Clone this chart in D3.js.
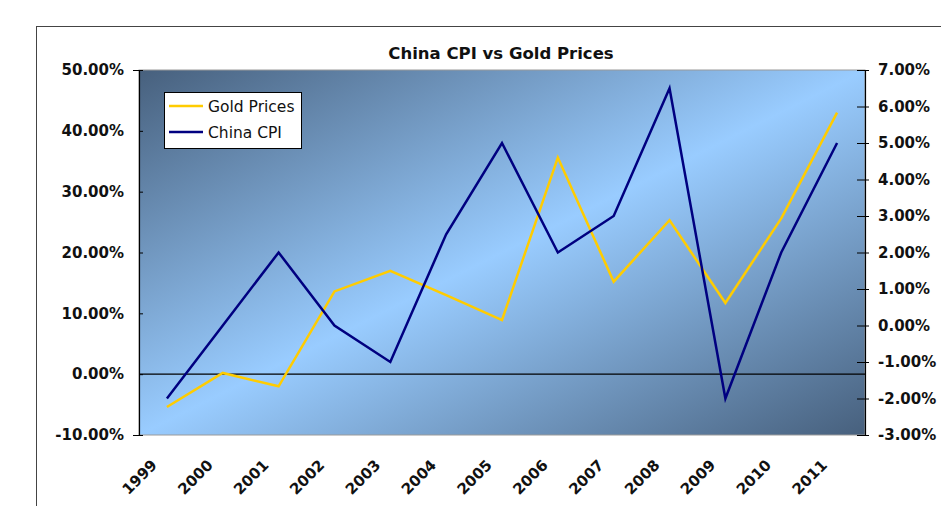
<!DOCTYPE html>
<html>
<head>
<meta charset="utf-8">
<script src="https://cdn.jsdelivr.net/npm/d3@7"></script>
<style>
  body { margin: 0; background: #fff; }
  svg { display: block; }
</style>
</head>
<body>
<script>
// chart data (percent)
const years = ["1999", "2000", "2001", "2002", "2003", "2004", "2005", "2006", "2007", "2008", "2009", "2010", "2011"];
const goldPrices = [-5.4, 0.2, -2.0, 13.6, 17.0, 13.0, 8.9, 35.6, 15.2, 25.3, 11.7, 25.6, 43.0];
const chinaCpi = [-2.0, 0.0, 2.0, 0.0, -1.0, 2.5, 5.0, 2.0, 3.0, 6.5, -2.0, 2.0, 5.0];
const leftTicks = [-10, 0, 10, 20, 30, 40, 50];
const rightTicks = [-3, -2, -1, 0, 1, 2, 3, 4, 5, 6, 7];

const width = 941;
const height = 506;
const plot = { left: 139, right: 865, top: 70, bottom: 435 };
const boldFont = "'DejaVu Sans', Verdana, sans-serif";

const svg = d3.select("body").append("svg")
  .attr("width", width)
  .attr("height", height);

// outer chart border (cut off on right and bottom)
svg.append("rect")
  .attr("x", 36.5).attr("y", 26.5)
  .attr("width", 1000).attr("height", 1000)
  .attr("fill", "#fff")
  .attr("stroke", "#444");

// plot background gradient
const grad = svg.append("defs").append("linearGradient")
  .attr("id", "bg")
  .attr("x1", "0").attr("y1", "0").attr("x2", "1").attr("y2", "1");
grad.append("stop").attr("offset", "0%").attr("stop-color", "#47607d");
grad.append("stop").attr("offset", "50%").attr("stop-color", "#99ccff");
grad.append("stop").attr("offset", "100%").attr("stop-color", "#47607d");

svg.append("rect")
  .attr("x", plot.left).attr("y", plot.top)
  .attr("width", plot.right - plot.left).attr("height", plot.bottom - plot.top)
  .attr("fill", "url(#bg)")
  .attr("stroke", "#9a9a9a");

// scales
const x = d3.scaleBand()
  .domain(years)
  .range([plot.left, plot.right]);

const yLeft = d3.scaleLinear()
  .domain([-10, 50])
  .range([plot.bottom, plot.top]);

const yRight = d3.scaleLinear()
  .domain([-3, 7])
  .range([plot.bottom, plot.top]);

// plain hyphen for negatives, like the original
const fmt = d => d3.format(".2f")(d).replace("\u2212", "-") + "%";

// left axis
const leftAxis = svg.append("g")
  .attr("transform", `translate(${plot.left},0)`)
  .call(d3.axisLeft(yLeft).tickValues(leftTicks).tickFormat(fmt).tickSize(6).tickPadding(9));
leftAxis.select(".domain").attr("stroke", "#000").attr("stroke-width", 1.2);
leftAxis.selectAll(".tick line").attr("x2", 4).attr("stroke", "#000");
leftAxis.selectAll("text")
  .attr("font-family", boldFont).attr("font-weight", "bold")
  .attr("font-size", 15).attr("fill", "#111");

// right axis
const rightAxis = svg.append("g")
  .attr("transform", `translate(${plot.right},0)`)
  .call(d3.axisRight(yRight).tickValues(rightTicks).tickFormat(fmt).tickSize(4).tickPadding(9));
rightAxis.select(".domain").attr("stroke", "#000").attr("stroke-width", 1.2);
rightAxis.selectAll(".tick line").attr("x1", -8).attr("stroke", "#000");
rightAxis.selectAll("text")
  .attr("font-family", boldFont).attr("font-weight", "bold")
  .attr("font-size", 15).attr("fill", "#111");

// category axis line at 0%
svg.append("line")
  .attr("x1", plot.left).attr("x2", plot.right)
  .attr("y1", yLeft(0)).attr("y2", yLeft(0))
  .attr("stroke", "#000").attr("stroke-width", 1.2);

// year labels, rotated
svg.append("g")
  .selectAll("text")
  .data(years)
  .join("text")
  .attr("transform", d => `translate(${x(d) + x.bandwidth() / 2 - 9},${plot.bottom + 31}) rotate(-45)`)
  .attr("text-anchor", "end")
  .attr("font-family", boldFont).attr("font-weight", "bold")
  .attr("font-size", 15).attr("fill", "#111")
  .text(d => d);

// lines
const goldLine = d3.line()
  .x((d, i) => x(years[i]) + x.bandwidth() / 2)
  .y(d => yLeft(d));

const cpiLine = d3.line()
  .x((d, i) => x(years[i]) + x.bandwidth() / 2)
  .y(d => yRight(d));

svg.append("path")
  .datum(goldPrices)
  .attr("d", goldLine)
  .attr("fill", "none")
  .attr("stroke", "#ffcc00")
  .attr("stroke-width", 2.5);

svg.append("path")
  .datum(chinaCpi)
  .attr("d", cpiLine)
  .attr("fill", "none")
  .attr("stroke", "#000080")
  .attr("stroke-width", 2.5);

// title
svg.append("text")
  .attr("x", 501).attr("y", 59)
  .attr("text-anchor", "middle")
  .attr("font-family", boldFont).attr("font-weight", "bold")
  .attr("font-size", 16.5).attr("fill", "#111")
  .text("China CPI vs Gold Prices");

// legend
const legend = svg.append("g").attr("transform", "translate(164,92)");
legend.append("rect")
  .attr("x", 0.5).attr("y", 0.5)
  .attr("width", 137).attr("height", 56)
  .attr("fill", "#fff").attr("stroke", "#000");

const legendItems = [
  { name: "Gold Prices", color: "#ffcc00" },
  { name: "China CPI", color: "#000080" }
];

legendItems.forEach((item, i) => {
  const y = 14 + i * 26;
  legend.append("line")
    .attr("x1", 5).attr("x2", 39)
    .attr("y1", y).attr("y2", y)
    .attr("stroke", item.color).attr("stroke-width", 2.5);
  legend.append("text")
    .attr("x", 44).attr("y", y + 5.5)
    .attr("font-family", "'DejaVu Sans', Verdana, sans-serif")
    .attr("font-size", 15.5).attr("fill", "#111")
    .text(item.name);
});
</script>
</body>
</html>
